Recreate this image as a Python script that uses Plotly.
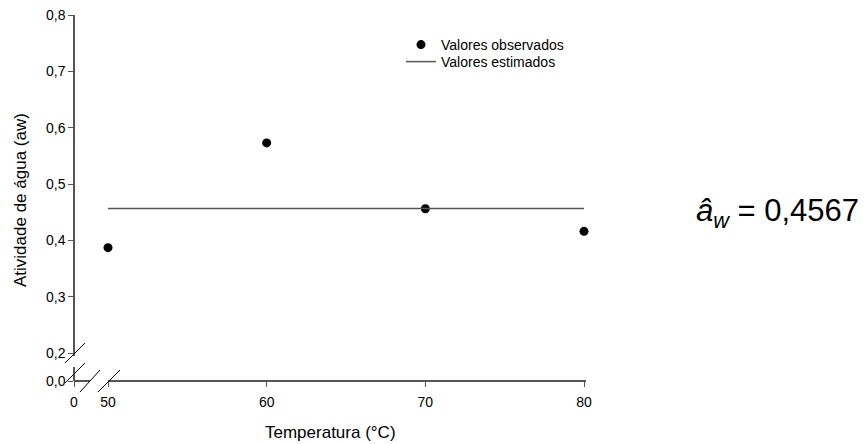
import plotly.graph_objects as go

# ---- data ----
temperatura = [50, 60, 70, 80]
aw_observado = [0.387, 0.573, 0.456, 0.416]
aw_estimado_valor = 0.4567
x_estimado = [50, 80]
aw_estimado = [aw_estimado_valor, aw_estimado_valor]

y_ticks_main = [0.2, 0.3, 0.4, 0.5, 0.6, 0.7, 0.8]
y_ticks_low = [0.0]
x_ticks_main = [50, 60, 70, 80]
x_ticks_low = [0]

OFF = 8  # page body margin
W, H = 866 - OFF, 444 - OFF
FONT = "Liberation Sans, Arial, sans-serif"
AXC = "#555555"


def fx(px):
    return (px - OFF) / W


def fy(py):
    return 1 - (py - OFF) / H


# pixel geometry (page pixels)
X50, X80 = 108.0, 584.0
sx = (X80 - X50) / 30.0
Y08, Y02 = 15.0, 353.0
sy = (Y02 - Y08) / 0.6
Y00 = 381.0
XL = 74.0

x_main_l, x_main_r = 108.0, 586.0
x_range = [50 - (X50 - x_main_l) / sx, 80 + (x_main_r - X80) / sx]
y_main_t, y_main_b = 14.5, 356.0
y_range = [0.8 - (y_main_b - Y08) / sy, 0.8 + (Y08 - y_main_t) / sy]
y_low_t = 367.0
y2_range = [0.0, (Y00 - y_low_t) / sy]
x_low_r = 90.0
x2_range = [0.0, (x_low_r - XL) / sx]

fig = go.Figure()
fig.add_trace(go.Scatter(
    x=temperatura, y=aw_observado, mode="markers", name="Valores observados",
    marker=dict(color="black", size=9), xaxis="x", yaxis="y", cliponaxis=False,
    legend="legend"))
fig.add_trace(go.Scatter(
    x=x_estimado, y=aw_estimado, mode="lines", name="Valores estimados",
    line=dict(color=AXC, width=1.5), xaxis="x", yaxis="y", legend="legend2"))
fig.add_trace(go.Scatter(x=[], y=[], xaxis="x2", yaxis="y2", showlegend=False,
                         hoverinfo="skip"))

axis_common = dict(showline=True, linecolor=AXC, linewidth=1.5, ticks="outside",
                   ticklen=5, tickcolor=AXC, tickwidth=1.2, showgrid=False,
                   zeroline=False, automargin=False, ticklabeloverflow="allow",
                   tickfont=dict(family=FONT, size=14, color="black"))
x_common = dict(axis_common, ticklabelstandoff=3)

legend_common = dict(xanchor="left", yanchor="middle", bgcolor="rgba(0,0,0,0)",
                     font=dict(family=FONT, size=14, color="black"), itemwidth=30)

fig.update_layout(
    width=W, height=H,
    margin=dict(l=0, r=0, t=0, b=0),
    paper_bgcolor="white", plot_bgcolor="rgba(0,0,0,0)",
    separators=",.",
    showlegend=True,
    legend=dict(x=fx(401), y=fy(45), **legend_common),
    legend2=dict(x=fx(401), y=fy(62), **legend_common),
    xaxis=dict(domain=[fx(x_main_l), fx(x_main_r)], range=x_range, anchor="free",
               position=fy(Y00), tickvals=x_ticks_main, **x_common),
    yaxis=dict(domain=[fy(y_main_b), fy(y_main_t)], range=y_range, anchor="free",
               position=fx(XL), tickvals=y_ticks_main, tickformat=".1f", **axis_common),
    xaxis2=dict(domain=[fx(XL), fx(x_low_r)], range=x2_range, anchor="free",
                position=fy(Y00), tickvals=x_ticks_low, **x_common),
    yaxis2=dict(domain=[fy(Y00), fy(y_low_t)], range=y2_range, anchor="free",
                position=fx(XL), tickvals=y_ticks_low, tickformat=".1f", **axis_common),
)

# axis break marks
breaks = [
    (65, 363, 85, 343),
    (65, 383, 85, 363),
    (80, 392, 100, 370),
    (98, 392, 120, 370),
]
shapes = []
for x0, y0, x1, y1 in breaks:
    shapes.append(dict(type="line", xref="paper", yref="paper",
                       x0=fx(x0), y0=fy(y0), x1=fx(x1), y1=fy(y1),
                       line=dict(color="black", width=1)))
fig.update_layout(shapes=shapes)

# titles and equation
fig.add_annotation(text="Temperatura (°C)", xref="paper", yref="paper",
                   x=fx(330), y=fy(432), xanchor="center", yanchor="middle",
                   showarrow=False, font=dict(family=FONT, size=17, color="black"))
fig.add_annotation(text="Atividade de água (aw)", xref="paper", yref="paper",
                   x=fx(20), y=fy(200), xanchor="center", yanchor="middle",
                   textangle=-90, showarrow=False,
                   font=dict(family=FONT, size=17, color="black"))
fig.add_annotation(
    text="<i>â</i><sub><i>w</i></sub> = 0,4567",
    xref="paper", yref="paper", x=fx(861), y=fy(213), xanchor="right",
    yanchor="middle", showarrow=False,
    font=dict(family=FONT, size=31, color="black"))

fig.write_html("out.html")
